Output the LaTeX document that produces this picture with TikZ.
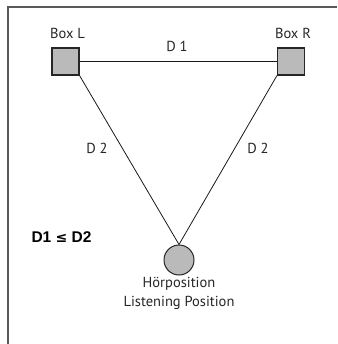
\documentclass[tikz,border=0pt]{standalone}
\usepackage{fontspec}
\setmainfont{PT Sans}
\newfontfamily\symfont{DejaVu Sans}
\newfontfamily\boldsans{Liberation Sans}
\begin{document}
\begin{tikzpicture}[x=1pt,y=-1pt,
  lbl/.style={font=\fontsize{14.5}{17}\selectfont, text=black!85, inner sep=0pt},
  speaker/.style={draw=black!85, line width=1.1pt, fill=black!27, minimum size=27pt, inner sep=0pt},
  listener/.style={circle, draw=black!85, line width=1pt, fill=black!27, minimum size=30pt, inner sep=0pt},
  leg/.style={draw=black!90, line width=0.8pt},
  frame/.style={draw=black!65, line width=1.5pt}]
  \useasboundingbox (0,0) rectangle (337,344);
  % open frame: top and left edges only
  \draw[frame] (337,7) -- (8,7) -- (8,344);

  \node[speaker] (boxL) at (65.5,61.5) {};
  \node[speaker] (boxR) at (291,61.5) {};
  \node[listener] (hp) at (179,260) {};

  \draw[leg] (boxL.east) -- (boxR.west);
  \draw[leg] (boxL.south east) -- (hp.north);
  \draw[leg] (boxR.south west) -- (hp.north);

  \node[lbl] (tL) at (67.5,33) {Box L};
  \node[lbl] (tR) at (293,33) {Box R};
  \node[lbl] (d1) at (177,46) {D 1};
  \node[lbl] (d2l) at (97,148) {D 2};
  \node[lbl] (d2r) at (258,148) {D 2};
  \node[lbl, font=\boldsans\fontsize{15.5}{17}\selectfont\bfseries, text=black] (rule) at (61.5,237)
    {D1 {\symfont\fontsize{14}{16}\selectfont ≤} D2};
  \node[lbl, align=center, font=\fontsize{14.5}{18.5}\selectfont] (cap) at (179,293.5)
    {Hörposition\\Listening Position};
\end{tikzpicture}
\end{document}
